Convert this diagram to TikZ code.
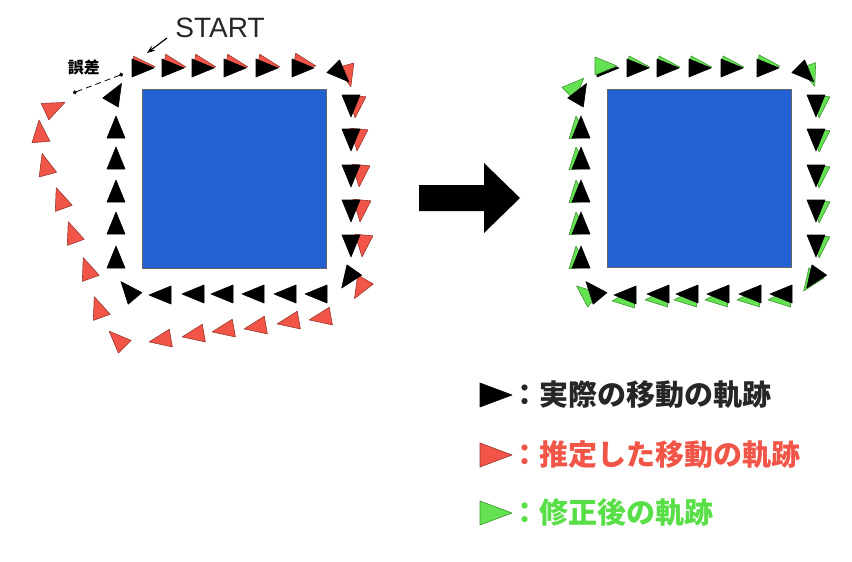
\documentclass[tikz,border=0pt]{standalone}
\usepackage{fontspec}
\setmainfont{Liberation Sans}
\newfontfamily\jp{Noto Sans CJK JP}
\usetikzlibrary{arrows.meta}

\definecolor{wallblue}{RGB}{35,96,210}
\definecolor{estred}{RGB}{240,85,72}
\definecolor{fixgreen}{RGB}{100,226,82}
\definecolor{fixtext}{RGB}{88,222,70}

\tikzset{
  tri/.style={line width=0.3pt,line join=round},
  legtext/.style={anchor=west,inner sep=0pt,font=\jp\bfseries\fontsize{14.5}{14.5}\selectfont},
}
% colour, x, y, angle
\newcommand{\trimark}[4]{%
  \filldraw[tri,fill=#1,draw=#1!65!black,shift={(#2,#3)},rotate=#4] (-11,-9) -- (11,0) -- (-11,9) -- cycle;}
\newcommand{\legtri}[2]{%
  \filldraw[tri,fill=#1,draw=#1!65!black,shift={(496,#2)}] (-16,-12) -- (16,0) -- (-16,12) -- cycle;}

% actual path
\def\actual{143/68/0, 173/68/0, 203/68/0, 235/68/0, 267/68/0, 303/68/0,
  341/74/-45,
  351/106/-90, 351/140/-90, 351/176/-90, 351/211/-90, 351/246/-90,
  348/279/235,
  316/294/180, 285/294/180, 253/294/180, 222/294/180, 193/294/180, 160/295/180,
  128/290/130,
  116/257/90, 116/223/90, 116/191/90, 116/158/90, 116/127/90,
  116/93/60}
% estimated path
\def\estimate{175/65/-10, 205/65/-10, 237/65/-10, 269/65/-10, 305/64/-10,
  348/76/-75,
  356/107/-95, 358/140/-95, 360/176/-95, 361/211/-95, 363/246/-95,
  360/289/240,
  320/318/190, 288/322/190, 255/327/190, 223/330/190, 193/335/190, 160/340/190,
  117/339/135,
  98/307/110, 87/268/110, 72/232/110, 60/198/110, 45/164/105, 40/131/95,
  55/107/25}
% corrected path
\def\corrected{174/66/-6, 204/66/-6, 236/66/-6, 268/66/-6, 304/65/-6,
  346/76/-70,
  355/107/-95, 355/141/-95, 355/177/-95, 355/212/-95, 355/247/-95,
  345/282/235,
  314/299/185, 283/299/185, 251/299/185, 220/299/185, 191/299/185, 158/300/185,
  120/293/140,
  112/257/95, 112/223/95, 112/191/95, 112/158/95, 112/127/95,
  111/86/45}

\begin{document}
\begin{tikzpicture}[x=0.5pt,y=-0.5pt]
\useasboundingbox (0,0) rectangle (852,562);

% before
\filldraw[fill=wallblue,draw=black!60,line width=0.5pt] (142,89) rectangle (326,268);
\trimark{estred}{144}{66}{-4}
\foreach \x/\y/\a in \estimate {\trimark{estred}{\x}{\y}{\a}}
\foreach \x/\y/\a in \actual {\trimark{black}{\x}{\y}{\a}}

\node[font=\fontsize{14}{14}\selectfont,text=black!85] (start) at (220,28) {START};
\coordinate (s1) at (167,38);
\coordinate (s2) at (147,53);
\draw[line width=0.6pt,-{Stealth[length=4pt]}] (s1) -- (s2);

\node[font=\jp\bfseries\fontsize{8}{8}\selectfont] (gosa) at (84,67) {誤差};
\coordinate (e1) at (123,74);
\coordinate (e2) at (73,93);
\draw[densely dashed,line width=0.4pt,{Circle[length=2pt]}-{Circle[length=2pt]}] (e1) -- (e2);

% arrow
\fill (419,185) -- (484,185) -- (484,163) -- (520,198) -- (484,233) -- (484,211) -- (419,211) -- cycle;

% after
\begin{scope}[shift={(465,0)}]
\filldraw[fill=wallblue,draw=black!60,line width=0.5pt] (142,89) rectangle (326,267);
\foreach \x/\y/\a in \corrected {\trimark{fixgreen}{\x}{\y}{\a}}
\foreach \x/\y/\a in \actual {\trimark{black}{\x}{\y}{\a}}
\trimark{fixgreen}{141}{66}{0}
\end{scope}

% legend
\legtri{black}{395}
\legtri{estred}{455}
\legtri{fixgreen}{513}
\node[legtext,text=black!85] (leg1) at (510,395) {：実際の移動の軌跡};
\node[legtext,text=estred] (leg2) at (510,455) {：推定した移動の軌跡};
\node[legtext,text=fixtext] (leg3) at (510,513) {：修正後の軌跡};
\end{tikzpicture}
\end{document}
